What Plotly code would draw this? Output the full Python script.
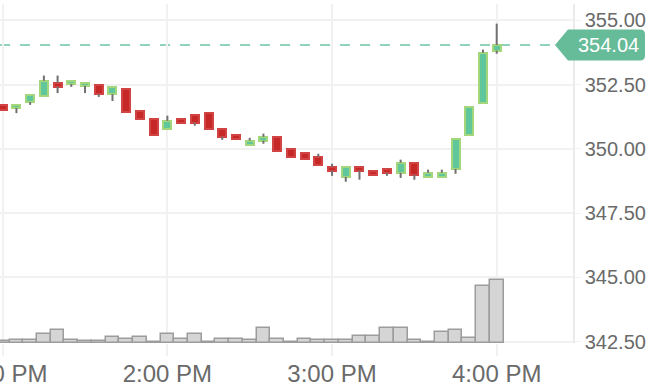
import plotly.graph_objects as go

DAY = "2024-03-15"
# 5-minute bars from 1:00 PM to 4:00 PM
times = [f"{DAY} {13 + (5 * i) // 60:02d}:{(5 * i) % 60:02d}:00" for i in range(37)]

opens = [351.72, 351.59, 351.82, 352.04, 352.57, 352.52, 352.45, 352.50, 352.13, 352.34,
         351.48, 351.17, 350.78, 351.17, 351.33, 351.41, 350.78, 350.55, 350.16, 350.32,
         350.47, 350.00, 349.85, 349.69, 349.30, 348.91, 349.30, 349.15, 349.22, 349.07,
         349.46, 348.91, 348.91, 349.22, 350.55, 351.80, 353.82]
closes = [351.52, 351.72, 352.11, 352.65, 352.42, 352.65, 352.57, 352.13, 352.42, 351.43,
          351.17, 350.55, 351.09, 351.02, 351.02, 350.78, 350.47, 350.39, 350.32, 350.47,
          349.93, 349.69, 349.61, 349.38, 349.15, 349.30, 349.15, 348.99, 349.07, 349.46,
          348.99, 349.07, 349.07, 350.39, 351.64, 353.74, 354.04]
highs = [351.72, 351.72, 352.11, 352.85, 352.85, 352.65, 352.57, 352.50, 352.42, 352.34,
         351.48, 351.17, 351.29, 351.17, 351.33, 351.41, 350.78, 350.55, 350.43, 350.59,
         350.47, 350.00, 349.85, 349.81, 349.42, 349.30, 349.30, 349.15, 349.22, 349.58,
         349.46, 349.19, 349.19, 350.39, 351.64, 353.86, 354.87]
lows = [351.52, 351.39, 351.71, 352.04, 352.17, 352.41, 352.17, 352.02, 351.86, 351.43,
        351.17, 350.55, 350.78, 351.02, 350.90, 350.78, 350.35, 350.39, 350.16, 350.20,
        349.93, 349.69, 349.61, 349.38, 348.95, 348.72, 348.80, 348.99, 348.95, 348.87,
        348.80, 348.91, 348.91, 349.03, 350.55, 351.80, 353.70]
volumes = [1700, 3000, 3000, 8600, 12600, 3000, 2300, 2300, 6300, 4300,
           6300, 1000, 8600, 4300, 8600, 1000, 4300, 4300, 3000, 14600,
           4300, 1000, 4300, 3000, 3000, 3000, 6600, 6600, 15000, 15000,
           3000, 1000, 11000, 13000, 4600, 56600, 62600]
last_price = 354.04
y_ticks = [342.5, 345.0, 347.5, 350.0, 352.5, 355.0]

GREEN_FILL = "#5fc79b"
GREEN_LINE = "#a4d77c"
RED_FILL = "#c62828"
RED_LINE = "#d24444"
TAG = "#66bb98"
GRID = "#f1f1f1"
TXT = "#6a6a6a"
FONT = "Liberation Sans, Arial, sans-serif"

PLOT_W = 573  # px width of plot area
PLOT_H = 339  # px height of plot area
BODY_MS = 175000
VOL_MS = 300000

fig = go.Figure()

# volume bars (secondary axis)
fig.add_trace(go.Bar(
    x=times, y=volumes, width=[VOL_MS] * len(times), yaxis="y2",
    marker=dict(color="#d5d5d5", line=dict(color="#9c9c9c", width=1.5)),
    hoverinfo="skip", showlegend=False))

# wicks (upper and lower parts, outside the body)
wx, wy = [], []
for t, o, c, lo, hi in zip(times, opens, closes, lows, highs):
    wx += [t, t, None, t, t, None]
    wy += [lo, min(o, c), None, max(o, c), hi, None]
fig.add_trace(go.Scatter(x=wx, y=wy, mode="lines",
                         line=dict(color="#707070", width=2),
                         hoverinfo="skip", showlegend=False))

# bodies
for up, fill, line in [(True, GREEN_FILL, GREEN_LINE), (False, RED_FILL, RED_LINE)]:
    idx = [i for i in range(len(times)) if (closes[i] >= opens[i]) == up]
    fig.add_trace(go.Bar(
        x=[times[i] for i in idx],
        base=[min(opens[i], closes[i]) for i in idx],
        y=[abs(closes[i] - opens[i]) for i in idx],
        width=[BODY_MS] * len(idx),
        marker=dict(color=fill, line=dict(color=line, width=2)),
        showlegend=False))

# last-price dashed line
tip = 555 / PLOT_W
corner = 568 / PLOT_W
right = 645 / PLOT_W
r_x = 5 / PLOT_W
px_per_unit = 25.74
half = 15.5 / px_per_unit
r_y = 5 / px_per_unit
fig.add_shape(type="line", xref="paper", yref="y", x0=0, x1=tip, y0=last_price, y1=last_price,
              line=dict(color="#8fd3b8", width=2, dash="10px,10px"), layer="between")

top = last_price + half
bot = last_price - half
path = (f"M {tip},{last_price} L {corner},{top} L {right - r_x},{top} "
        f"Q {right},{top} {right},{top - r_y} L {right},{bot + r_y} "
        f"Q {right},{bot} {right - r_x},{bot} L {corner},{bot} Z")
fig.add_shape(type="path", xref="paper", yref="y", path=path,
              fillcolor=TAG, line=dict(width=0), layer="above")
fig.add_annotation(xref="paper", yref="y", x=608 / PLOT_W, y=last_price,
                   xanchor="center", yanchor="middle",
                   text=f"{last_price:.2f}", showarrow=False,
                   font=dict(color="white", size=20, family=FONT))

fig.update_layout(
    width=654, height=392,
    margin=dict(l=0, r=654 - PLOT_W, t=4, b=392 - 4 - PLOT_H, autoexpand=False),
    paper_bgcolor="white", plot_bgcolor="white",
    barmode="overlay", bargap=0,
    showlegend=False,
    font=dict(family=FONT, color=TXT),
    xaxis=dict(
        type="date",
        range=[f"{DAY} 12:59:01", f"{DAY} 16:27:48"],
        tick0=f"{DAY} 13:00", dtick=3600000, tickformat="%-I:%M %p",
        showgrid=True, gridcolor=GRID, gridwidth=2,
        ticks="outside", ticklen=12, tickcolor=GRID, tickwidth=2,
        ticklabelstandoff=-3,
        tickfont=dict(size=24, color=TXT, family=FONT),
        ticklabeloverflow="allow",
        showline=False, zeroline=False, rangeslider=dict(visible=False),
        fixedrange=True,
    ),
    yaxis=dict(
        side="right", range=[342.45, 355.633],
        tickvals=y_ticks, ticktext=[f"{v:.2f}" for v in y_ticks],
        showgrid=True, gridcolor=GRID, gridwidth=1.5,
        ticks="outside", ticklen=6, tickcolor=GRID,
        tickfont=dict(size=20, color=TXT, family=FONT),
        showline=True, linecolor="#ebebeb", linewidth=1.5, mirror=False,
        zeroline=False, automargin=False,
    ),
    yaxis2=dict(overlaying="y", range=[0, PLOT_H * 1000], visible=False, fixedrange=True),
)

fig.write_html("out.html")
